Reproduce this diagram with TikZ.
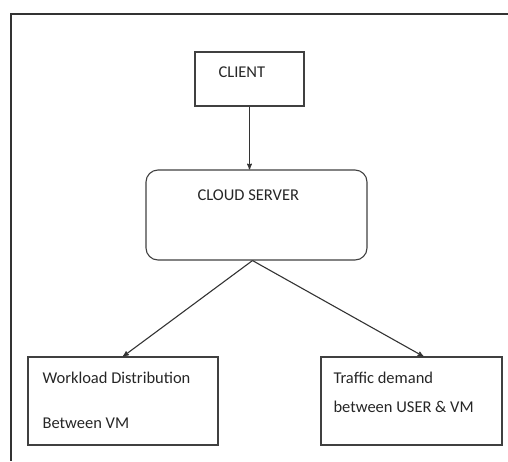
\documentclass[tikz,border=0pt]{standalone}
\usepackage{fontspec}
\setmainfont{Carlito}
\usetikzlibrary{arrows,positioning}

\begin{document}
\begin{tikzpicture}[>=stealth'
	,x=1pt,y=-1pt
	,line width=1.1pt
	,font=\fontsize{16.5}{20}\selectfont]
  \tikzstyle{box}=[draw=black!75,inner sep=0pt]
  \tikzstyle{txt}=[anchor=base west,inner sep=0pt,text=black!85]
  \tikzstyle{conn}=[->,draw=black!80]
  \useasboundingbox (0,0) rectangle (508,461);

  % frame
  \draw[black!80] (508,14) -- (11,14) -- (11,461);

  % boxes
  \node[box,minimum width=109pt,minimum height=54pt] (client) at (249.5,79) {};
  \node[box,rounded corners=12pt,minimum width=221pt,minimum height=90pt] (cloud) at (256.5,215) {};
  \node[box,minimum width=190pt,minimum height=88pt] (work) at (123,401) {};
  \node[box,minimum width=181pt,minimum height=88pt] (traffic) at (411.5,401) {};

  % texts
  \node[txt] (clientt) at (218,77.5) {CLIENT};
  \node[txt] (cloudt) at (197,200.5) {CLOUD SERVER};
  \node[txt] (workt1) at (42,383) {Workload Distribution};
  \node[txt] (workt2) at (42,428) {Between VM};
  \node[txt] (traft1) at (333,383) {Traffic demand};
  \node[txt] (traft2) at (333,412) {between USER \& VM};

  % arrows
  \draw[conn] (client.south) -- (client.south |- cloud.north);
  \draw[conn] ([xshift=-4pt]cloud.south) -- (work.north);
  \draw[conn] ([xshift=-4pt]cloud.south) -- ([xshift=12pt]traffic.north);
\end{tikzpicture}
\end{document}
